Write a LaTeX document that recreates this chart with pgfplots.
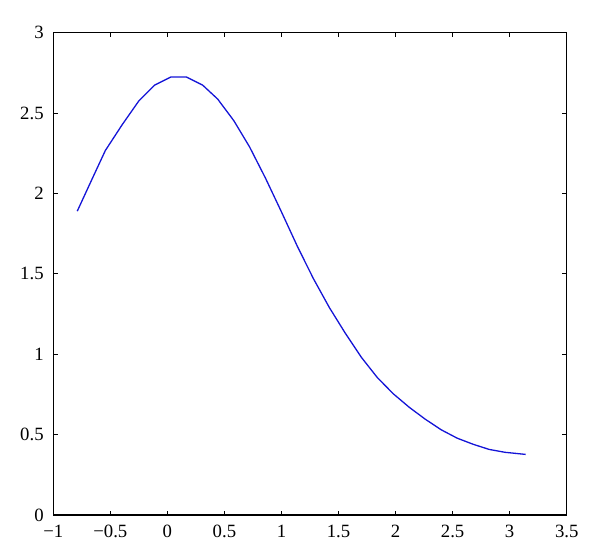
\documentclass[border=0pt]{standalone}
\usepackage{fontspec}
\setmainfont{Liberation Serif}
\usepackage{pgfplots}
\pgfplotsset{compat=1.18}
\begin{document}
\fontsize{9.4}{11}\selectfont
\begin{tikzpicture}
\begin{axis}[
  scale only axis,
  width=256.7bp, height=241.15bp,
  xmin=-1, xmax=3.5, ymin=0, ymax=3,
  xtick={-1,-0.5,0,0.5,1,1.5,2,2.5,3,3.5},
  xticklabels={−1,−0.5,0,0.5,1,1.5,2,2.5,3,3.5},
  ytick={0,0.5,1,1.5,2,2.5,3},
  yticklabels={0,0.5,1,1.5,2,2.5,3},
  tick align=inside,
  major tick length=2.2bp,
  axis line style={line width=0.55bp},
  tick style={line width=0.5bp, black},
  every tick label/.append style={font=\fontsize{9.4}{11}\selectfont},
  xticklabel style={yshift=-1.8bp},
  yticklabel style={xshift=-1.5bp},
]
\addplot[color={rgb,255:red,20;green,20;blue,215}, line width=0.65bp, mark=none] coordinates {
(-0.79,1.89)
(-0.66,2.09)
(-0.544,2.267)
(-0.397,2.427)
(-0.25,2.576)
(-0.112,2.674)
(0.029,2.724)
(0.168,2.724)
(0.309,2.674)
(0.441,2.587)
(0.583,2.452)
(0.72,2.29)
(0.86,2.095)
(1.0,1.885)
(1.14,1.67)
(1.28,1.47)
(1.42,1.29)
(1.56,1.13)
(1.70,0.981)
(1.84,0.855)
(1.98,0.754)
(2.12,0.67)
(2.26,0.596)
(2.40,0.53)
(2.54,0.478)
(2.68,0.44)
(2.82,0.408)
(2.96,0.39)
(3.14,0.377)
};
\end{axis}
\pgfresetboundingbox
\path ([shift={(-26.65bp,-21.5bp)}]current axis.south west) rectangle ([shift={(16.65bp,16.35bp)}]current axis.north east);
\end{tikzpicture}
\end{document}
